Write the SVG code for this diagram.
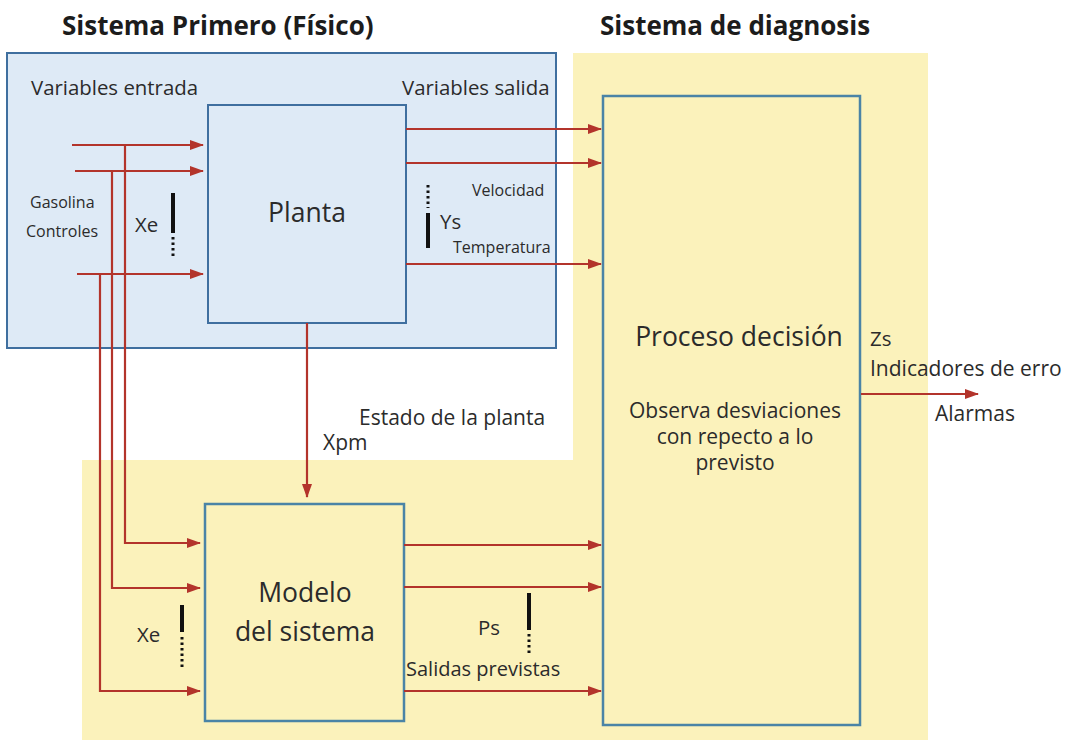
<svg xmlns="http://www.w3.org/2000/svg" width="1067" height="750" viewBox="0 0 1067 750">
<style>
text{font-family:"Open Sans","Noto Sans",sans-serif;fill:#2b2b2b}
.title{font-size:26px;font-weight:bold;fill:#1c1c1c}
.l{font-size:20.4px}
.s{font-size:16px}
.big{font-size:26.5px}
.m{font-size:21px}
.box1{fill:#deeaf6;stroke:#3f6f9f;stroke-width:2}
.box2{fill:#fbf2bb;stroke:#4a84a6;stroke-width:2.5}
.c{fill:none;stroke:#b3342b;stroke-width:2.2}
.bar{stroke:#111;stroke-width:4}
.dot{stroke:#111;stroke-width:3;stroke-dasharray:2.5 3}
</style>
<defs>
<marker id="ah" viewBox="0 0 14 10" refX="13" refY="5" markerWidth="14" markerHeight="10" markerUnits="userSpaceOnUse" orient="auto">
<path d="M0,0 L14,5 L0,10 z" fill="#b3342b"/>
</marker>
</defs>
<g id="regions">
<rect x="7" y="53" width="549" height="295" fill="#deeaf6" stroke="#3f6f9f" stroke-width="2"/>
<path d="M573,53 H928 V740 H82 V460 H573 Z" fill="#fbf2bb"/>
</g>
<text class="title" x="62" y="35">Sistema Primero (Físico)</text>
<text class="title" x="600" y="35">Sistema de diagnosis</text>
<g id="planta">
<rect class="box1" x="208" y="105" width="198" height="218"/>
<text class="big" x="307" y="222" text-anchor="middle">Planta</text>
</g>
<g id="diagnosis">
<rect class="box2" x="603" y="96" width="257" height="629"/>
<text class="big" x="739" y="346" text-anchor="middle">Proceso decisión</text>
<text class="m" x="735" y="418" text-anchor="middle">Observa desviaciones</text>
<text class="m" x="735" y="444" text-anchor="middle">con repecto a lo</text>
<text class="m" x="735" y="470" text-anchor="middle">previsto</text>
</g>
<g id="modelo">
<rect class="box2" x="205" y="504" width="199" height="217"/>
<text class="big" x="305" y="602" text-anchor="middle">Modelo</text>
<text class="big" x="305" y="641" text-anchor="middle">del sistema</text>
</g>
<g id="connectors">
<path class="c" d="M72,145 H203" marker-end="url(#ah)"/>
<path class="c" d="M75,171 H203" marker-end="url(#ah)"/>
<path class="c" d="M77,274 H203" marker-end="url(#ah)"/>
<path class="c" d="M125,145 V543 H200" marker-end="url(#ah)"/>
<path class="c" d="M112,171 V588 H200" marker-end="url(#ah)"/>
<path class="c" d="M100,274 V691 H200" marker-end="url(#ah)"/>
<path class="c" d="M406,129 H601" marker-end="url(#ah)"/>
<path class="c" d="M406,163 H601" marker-end="url(#ah)"/>
<path class="c" d="M406,264 H601" marker-end="url(#ah)"/>
<path class="c" d="M307,323 V497" marker-end="url(#ah)"/>
<path class="c" d="M404,545 H601" marker-end="url(#ah)"/>
<path class="c" d="M404,587 H601" marker-end="url(#ah)"/>
<path class="c" d="M404,691 H601" marker-end="url(#ah)"/>
<path class="c" d="M861,394 H978" stroke-width="1.8" marker-end="url(#ah)"/>
</g>
<g id="labels">
<text class="l" x="31" y="95">Variables entrada</text>
<text class="l" x="402" y="95">Variables salida</text>
<text class="s" x="30" y="208">Gasolina</text>
<text class="s" x="26" y="237">Controles</text>
<text class="l" x="135" y="232">Xe</text>
<line class="bar" x1="173" y1="193" x2="173" y2="233"/>
<line class="dot" x1="173" y1="237" x2="173" y2="257"/>
<text class="s" x="472" y="196">Velocidad</text>
<line class="dot" x1="428" y1="185" x2="428" y2="208"/>
<line class="bar" x1="428" y1="213" x2="428" y2="248"/>
<text class="l" x="440" y="229">Ys</text>
<text class="s" x="453" y="253">Temperatura</text>
<text class="m" x="359" y="425">Estado de la planta</text>
<text class="m" x="323" y="450">Xpm</text>
<text class="l" x="870" y="346">Zs</text>
<text class="m" x="870" y="376">Indicadores de erro</text>
<text class="m" x="935" y="421">Alarmas</text>
<text class="l" x="137" y="642">Xe</text>
<line class="bar" x1="182" y1="605" x2="182" y2="632"/>
<line class="dot" x1="182" y1="637" x2="182" y2="668"/>
<text class="l" x="478" y="635">Ps</text>
<line class="bar" x1="529" y1="593" x2="529" y2="630"/>
<line class="dot" x1="529" y1="634" x2="529" y2="656"/>
<text class="m" x="406" y="676" style="font-size:20px">Salidas previstas</text>
</g>
</svg>
